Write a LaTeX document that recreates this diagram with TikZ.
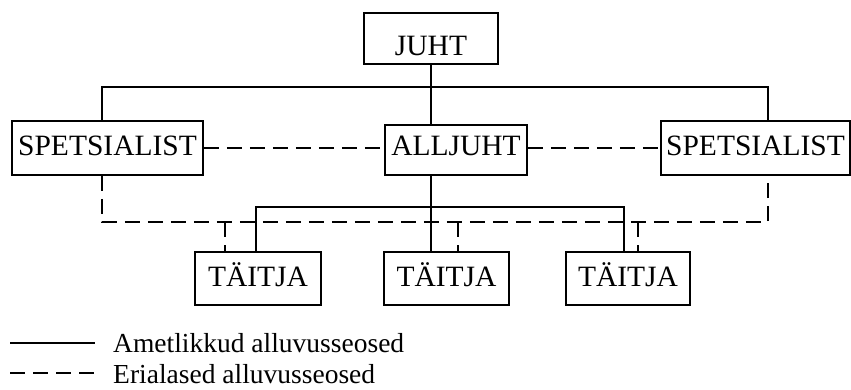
\documentclass[tikz,border=0pt]{standalone}
\usepackage{fontspec}
\setmainfont{Liberation Serif}
\begin{document}
\begin{tikzpicture}[x=1pt, y=-1pt,
  box/.style={draw, line width=1.6pt, inner sep=0pt, rectangle,
    font=\fontsize{29.5}{32}\selectfont},
  link/.style={line width=1.6pt},
  dlink/.style={line width=1.6pt, dash pattern=on 15pt off 8pt},
  legendtext/.style={anchor=base west, inner sep=0pt,
    font=\fontsize{27.5}{30}\selectfont}]
\useasboundingbox (0,0) rectangle (851,389);

% boxes
\node[box, minimum width=134pt, minimum height=51pt, text height=33pt, text depth=0pt]
  (juht) at (431,38.5) {JUHT};
\node[box, minimum width=191pt, minimum height=54pt, text height=20pt, text depth=6pt]
  (spl) at (107.5,148) {SPETSIALIST};
\node[box, minimum width=142pt, minimum height=50pt, text height=20pt, text depth=10pt]
  (all) at (456,150) {ALLJUHT};
\node[box, minimum width=189pt, minimum height=54pt, text height=20pt, text depth=6pt]
  (spr) at (755.5,148) {SPETSIALIST};
\node[box, minimum width=126pt, minimum height=53pt, text height=21pt, text depth=6pt]
  (t1) at (258,278.5) {TÄITJA};
\node[box, minimum width=125pt, minimum height=53pt, text height=21pt, text depth=6pt]
  (t2) at (446.5,278.5) {TÄITJA};
\node[box, minimum width=124pt, minimum height=53pt, text height=21pt, text depth=6pt]
  (t3) at (628,278.5) {TÄITJA};

% bend points of the connectors
\coordinate (busL) at (102,87);
\coordinate (busR) at (768,87);
\coordinate (tbL) at (256,207);
\coordinate (tbR) at (624,207);
\coordinate (dL) at (102,222);
\coordinate (dR) at (768,222);
\coordinate (dd1) at (225,222);
\coordinate (dd2) at (458,222);
\coordinate (dd3) at (638,222);

% line subordination (solid)
\draw[link] (spl.north -| busL) -- (busL) -- (busR) -- (spr.north -| busR);
\draw[link] (juht.south) -- (all.north -| juht.south);
\draw[link] (all.south -| juht.south) -- (t2.north -| juht.south);
\draw[link] (t1.north -| tbL) -- (tbL) -- (tbR) -- (t3.north -| tbR);

% functional subordination (dashed)
\draw[dlink] (spl.east) -- (all.west |- spl.east);
\draw[dlink] (all.east |- spr.west) -- (spr.west);
\draw[dlink] (spl.south -| dL) -- (dL) -- (dR) -- (spr.south -| dR);
\draw[dlink] (dd1) -- (t1.north -| dd1);
\draw[dlink] (dd2) -- (t2.north -| dd2);
\draw[dlink] (dd3) -- (t3.north -| dd3);

% legend
\coordinate (ls1) at (10,343);
\coordinate (ls2) at (95,343);
\coordinate (ld1) at (10,373);
\coordinate (ld2) at (94,373);
\draw[link] (ls1) -- (ls2);
\draw[dlink] (ld1) -- (ld2);
\node[legendtext] (lt1) at (113,352) {Ametlikkud alluvusseosed};
\node[legendtext] (lt2) at (113,383) {Erialased alluvusseosed};
\end{tikzpicture}
\end{document}
